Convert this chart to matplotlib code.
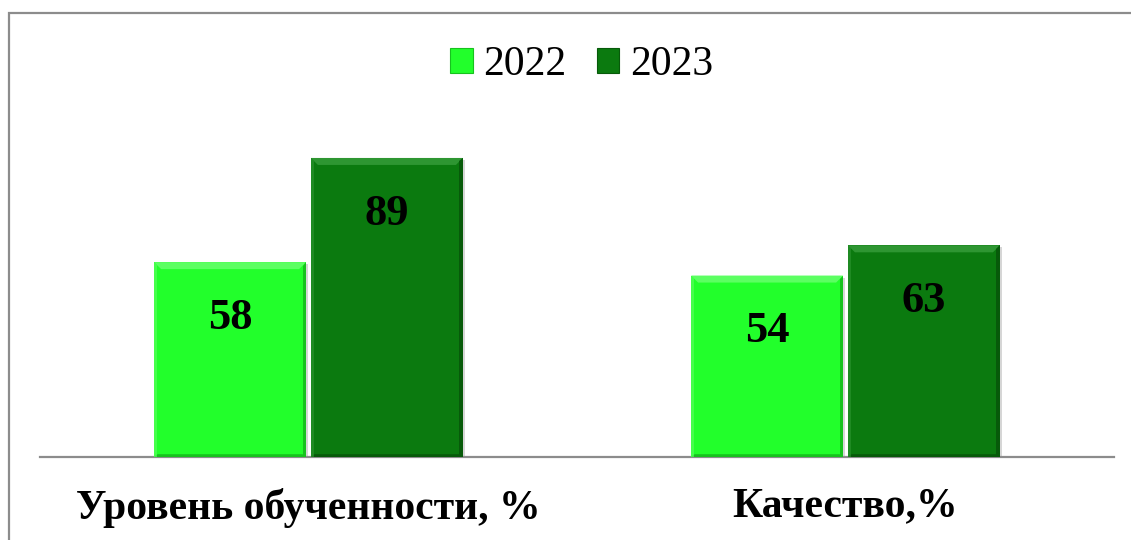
import matplotlib
matplotlib.use("Agg")
import matplotlib.pyplot as plt
from matplotlib.patches import Rectangle, Polygon
import numpy as np

categories = ["Уровень обученности, %", "Качество,%"]
series_names = ["2022", "2023"]
values_2022 = [58, 54]
values_2023 = [89, 63]

colors = ["#22FF2B", "#0B7A0F"]
light_edge = ["#5CFF62", "#2E9632"]
dark_edge = ["#17C21E", "#075A0A"]

W, H, DPI = 1131, 540, 100
fig = plt.figure(figsize=(W / DPI, H / DPI), dpi=DPI)
fig.patch.set_facecolor("white")

# outer frame (partly outside the image)
fig.patches.append(Rectangle((9 / W, -0.1), 1.2, 1 - 13 / H + 0.1, transform=fig.transFigure,
                             fill=False, edgecolor="#8C8C8C", linewidth=1.6, zorder=0))

ax = fig.add_axes([40 / W, (H - 457) / H, 1074 / W, 336 / H])
ax.set_xlim(-0.5, 1.5)
ax.set_ylim(0, 100)
for s in ["top", "left", "right"]:
    ax.spines[s].set_visible(False)
ax.spines["bottom"].set_color("#8C8C8C")
ax.spines["bottom"].set_linewidth(1.6)
ax.set_yticks([])

x = np.arange(len(categories))
width = 0.283
offset = 0.146
serif = ["Liberation Serif", "DejaVu Serif"]

for i, (vals, name) in enumerate(zip([values_2022, values_2023], series_names)):
    bars = ax.bar(x + (2 * i - 1) * offset, vals, width, color=colors[i], label=name,
                  edgecolor="none", zorder=3)
    for b, v in zip(bars, vals):
        # shadow
        ax.add_patch(Rectangle((b.get_x() + 0.004, 0), b.get_width(), v - 0.6,
                               facecolor="#BBBBBB", edgecolor="none", zorder=2, alpha=0.6))
        # bevel
        px_per_x = 1074 / 2.0
        px_per_y = 336 / 100.0
        bx = 7 / px_per_x
        by = 7 / px_per_y
        x0, x1 = b.get_x(), b.get_x() + b.get_width()
        ax.add_patch(Polygon([[x0, v], [x1, v], [x1 - bx, v - by], [x0 + bx, v - by]],
                             closed=True, facecolor=light_edge[i], edgecolor="none", zorder=4))
        ax.add_patch(Polygon([[x1, v], [x1, 0], [x1 - bx * 0.5, 0], [x1 - bx * 0.5, v - by * 0.5]],
                             closed=True, facecolor=dark_edge[i], edgecolor="none", zorder=4))
        ax.add_patch(Polygon([[x0, 0], [x1, 0], [x1 - bx * 0.5, by * 0.4], [x0 + bx * 0.5, by * 0.4]],
                             closed=True, facecolor=dark_edge[i], edgecolor="none", zorder=4))
        ax.add_patch(Polygon([[x0, v], [x0, 0], [x0 + bx * 0.4, 0], [x0 + bx * 0.4, v - by * 0.4]],
                             closed=True, facecolor=light_edge[i], edgecolor="none", zorder=4, alpha=0.6))
        ax.annotate(str(v), (b.get_x() + b.get_width() / 2, v), xytext=(0, -40),
                    textcoords="offset points", ha="center", va="center",
                    fontsize=32, fontweight="bold", family=serif, color="black", zorder=5)

ax.set_xticks(x)
ax.set_xticklabels(categories, fontsize=30, fontweight="bold", family=serif)
ax.tick_params(axis="x", length=0, pad=22)

handles = [Rectangle((0, 0), 1, 1, facecolor=colors[i], edgecolor=dark_edge[i], linewidth=0.8)
           for i in range(2)]
leg = fig.legend(handles, series_names, loc="center", bbox_to_anchor=(581.5 / W, 1 - 65 / H),
                 ncol=2, frameon=False, prop={"family": serif, "size": 30},
                 handlelength=0.55, handleheight=0.55, handletextpad=0.25, columnspacing=0.72,
                 borderpad=0, borderaxespad=0)

fig.savefig("out.png", dpi=DPI, facecolor="white")
